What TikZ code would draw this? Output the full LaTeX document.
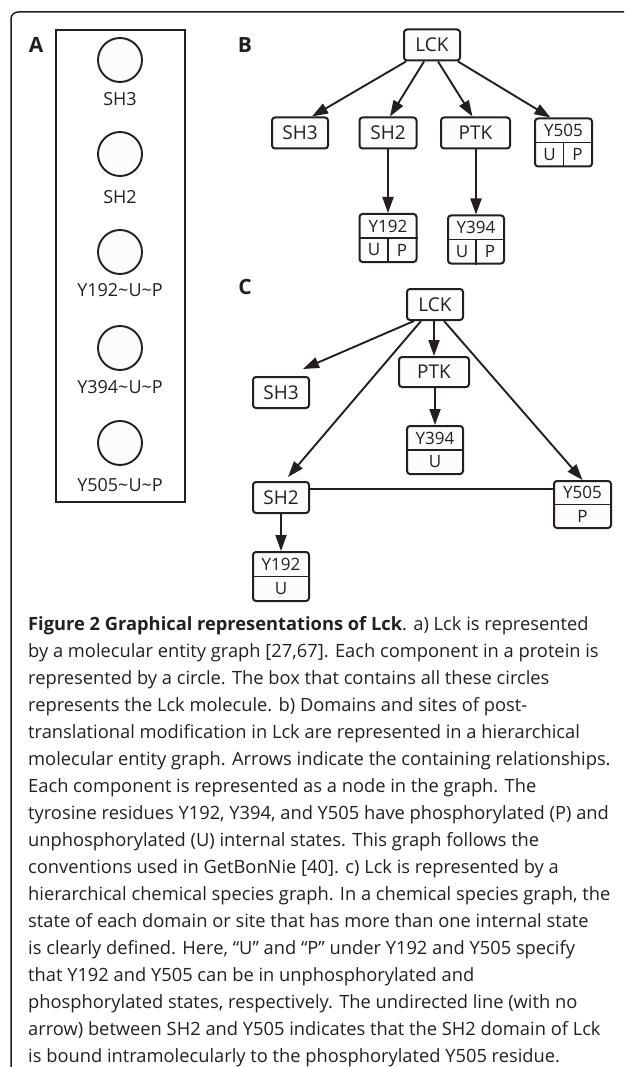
\documentclass[tikz,border=0pt]{standalone}
\usepackage{fontspec}
\setmainfont{Open Sans}
\usetikzlibrary{arrows.meta}
\definecolor{ink}{HTML}{231F20}
\definecolor{boxfill}{HTML}{FDFCFA}

\begin{document}
\begin{tikzpicture}[x=1pt, y=-1pt,
  box/.style={draw=ink, line width=2pt, rounded corners=3pt, fill=boxfill, text=ink,
    inner sep=0pt, minimum width=56pt, minimum height=31pt, font=\fontsize{19}{19}\selectfont},
  site/.style={box, minimum height=48pt},
  tag/.style={text=ink, inner sep=0pt, font=\fontsize{17}{17}\selectfont},
  comp/.style={circle, draw=ink, line width=1.9pt, fill=boxfill, minimum size=44pt, inner sep=0pt},
  clabel/.style={text=ink, inner sep=0pt, font=\fontsize{18}{18}\selectfont},
  panel/.style={text=ink, inner sep=0pt, font=\fontsize{21}{21}\selectfont\bfseries},
  arr/.style={draw=ink, line width=1.9pt, -{Triangle[length=16pt, width=11pt]}},
  bond/.style={draw=ink, line width=1.7pt},
  split/.style={draw=ink, line width=1.5pt}]
\useasboundingbox (0,0) rectangle (624,1067);

% frame
\draw[ink, line width=1.5pt, rounded corners=7pt] (11,1067) -- (11,12) -- (624,12);

% A: molecular entity graph
\node[panel] (labA) at (36,45) {A};
\node[draw=ink, line width=1.9pt, minimum width=129pt, minimum height=472pt, inner sep=0pt] (molA) at (120.5,266) {};
\node[comp] (sh3a) at (120,60) {};
\node[clabel] (sh3aL) at (120,99) {SH3};
\node[comp] (sh2a) at (120,154) {};
\node[clabel] (sh2aL) at (120,197) {SH2};
\node[comp] (y192a) at (120,252) {};
\node[clabel] (y192aL) at (120,290) {Y192\textasciitilde U\textasciitilde P};
\node[comp] (y394a) at (120,348) {};
\node[clabel] (y394aL) at (120,387) {Y394\textasciitilde U\textasciitilde P};
\node[comp] (y505a) at (120,443) {};
\node[clabel] (y505aL) at (120,485) {Y505\textasciitilde U\textasciitilde P};

% B: hierarchical molecular entity graph
\node[panel] (labB) at (245,45) {B};
\node[box] (LCKb) at (432,45) {LCK};
\node[box] (SH3b) at (300,133) {SH3};
\node[box, minimum width=57pt] (SH2b) at (388,133) {SH2};
\node[box, minimum width=69pt] (PTKb) at (475.5,133) {PTK};
\node[site, minimum width=57pt] (Y505b) at (563.5,142.5) {};
\node[site, minimum width=57pt] (Y192b) at (388,238) {};
\node[site] (Y394b) at (476,239.5) {};

\draw[split] (Y505b.west) -- (Y505b.east);
\draw[split] (Y505b.center) -- (Y505b.south);
\node[tag] (Y505bT) at ([yshift=12pt]Y505b.center) {Y505};
\node[tag] (Y505bU) at ([xshift=-14pt,yshift=-12pt]Y505b.center) {U};
\node[tag] (Y505bP) at ([xshift=14pt,yshift=-12pt]Y505b.center) {P};

\draw[split] (Y192b.west) -- (Y192b.east);
\draw[split] (Y192b.center) -- (Y192b.south);
\node[tag] (Y192bT) at ([yshift=12pt]Y192b.center) {Y192};
\node[tag] (Y192bU) at ([xshift=-14pt,yshift=-12pt]Y192b.center) {U};
\node[tag] (Y192bP) at ([xshift=14pt,yshift=-12pt]Y192b.center) {P};

\draw[split] (Y394b.west) -- (Y394b.east);
\draw[split] (Y394b.center) -- (Y394b.south);
\node[tag] (Y394bT) at ([yshift=12pt]Y394b.center) {Y394};
\node[tag] (Y394bU) at ([xshift=-14pt,yshift=-12pt]Y394b.center) {U};
\node[tag] (Y394bP) at ([xshift=14pt,yshift=-12pt]Y394b.center) {P};

\draw[arr] ([xshift=-26pt]LCKb.south) -- ([xshift=12pt]SH3b.north);
\draw[arr] ([xshift=-8pt]LCKb.south) -- ([xshift=2pt]SH2b.north);
\draw[arr] ([xshift=6pt]LCKb.south) -- ([xshift=-3pt]PTKb.north);
\draw[arr] ([xshift=26pt]LCKb.south) -- ([xshift=-13pt]Y505b.north);
\draw[arr] (SH2b) -- (Y192b);
\draw[arr] (PTKb.south -| Y394b) -- (Y394b.north);

% C: hierarchical chemical species graph
\node[panel] (labC) at (245,287) {C};
\node[box] (LCKc) at (435,304.5) {LCK};
\node[box] (SH3c) at (281,392.5) {SH3};
\node[box, minimum width=70pt, minimum height=30pt] (PTKc) at (434,372) {PTK};
\node[site] (Y394c) at (435,450) {};
\node[box] (SH2c) at (281,497.5) {SH2};
\node[site, minimum width=57pt, minimum height=47pt] (Y505c) at (582.5,504.5) {};
\node[site, minimum height=49pt] (Y192c) at (281,576.5) {};

\draw[split] (Y394c.west) -- (Y394c.east);
\node[tag] (Y394cT) at ([yshift=12pt]Y394c.center) {Y394};
\node[tag] (Y394cU) at ([yshift=-12pt]Y394c.center) {U};
\draw[split] (Y505c.west) -- (Y505c.east);
\node[tag] (Y505cT) at ([yshift=12pt]Y505c.center) {Y505};
\node[tag] (Y505cP) at ([yshift=-12pt]Y505c.center) {P};
\draw[split] (Y192c.west) -- (Y192c.east);
\node[tag] (Y192cT) at ([yshift=12pt]Y192c.center) {Y192};
\node[tag] (Y192cU) at ([yshift=-12pt]Y192c.center) {U};

\draw[arr] ([xshift=-21pt]LCKc.south) -- ([xshift=-7pt,yshift=7pt]SH3c.north east);
\draw[arr] ([xshift=-14pt]LCKc.south) -- ([xshift=7pt,yshift=4pt]SH2c.north);
\draw[arr] (LCKc.south -| PTKc) -- (PTKc.north);
\draw[arr] ([xshift=9pt]LCKc.south) -- (Y505c.north);
\draw[arr] (PTKc.south -| Y394c) -- (Y394c.north);
\draw[arr] (SH2c) -- (Y192c);
\draw[bond] ([yshift=8.5pt]SH2c.east) -- ([yshift=8.5pt]SH2c.east -| Y505c.west);

% caption
\node[anchor=north west, inner sep=0pt, align=left, text=ink,
  font=\fontsize{18.3}{27}\selectfont] (caption) at (28,616)
  {\textbf{Figure 2 Graphical representations of Lck}. a) Lck is represented\\
   by a molecular entity graph [27,67]. Each component in a protein is\\
   represented by a circle. The box that contains all these circles\\
   represents the Lck molecule. b) Domains and sites of post-\\
   translational modification in Lck are represented in a hierarchical\\
   molecular entity graph. Arrows indicate the containing relationships.\\
   Each component is represented as a node in the graph. The\\
   tyrosine residues Y192, Y394, and Y505 have phosphorylated (P) and\\
   unphosphorylated (U) internal states. This graph follows the\\
   conventions used in GetBonNie [40]. c) Lck is represented by a\\
   hierarchical chemical species graph. In a chemical species graph, the\\
   state of each domain or site that has more than one internal state\\
   is clearly defined. Here, “U” and “P” under Y192 and Y505 specify\\
   that Y192 and Y505 can be in unphosphorylated and\\
   phosphorylated states, respectively. The undirected line (with no\\
   arrow) between SH2 and Y505 indicates that the SH2 domain of Lck\\
   is bound intramolecularly to the phosphorylated Y505 residue.};
\end{tikzpicture}
\end{document}
